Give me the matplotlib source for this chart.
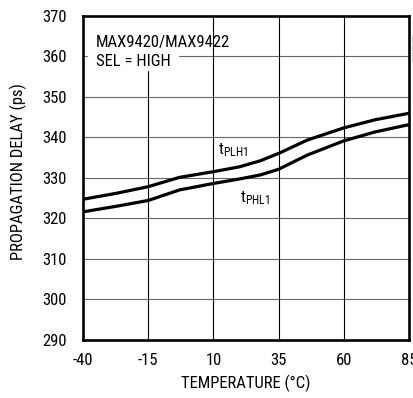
import numpy as np
import matplotlib
matplotlib.use('Agg')
import matplotlib.pyplot as plt

plt.rcParams['font.family'] = ['Roboto Condensed', 'DejaVu Sans']
plt.rcParams['axes.unicode_minus'] = False

# Data
temps = [-40, -27, -15, -3, 10, 20, 28, 35, 46, 60, 72, 85]
t_plh1 = [324.7, 326.2, 327.8, 330.1, 331.5, 332.7, 334.2, 336.0, 339.3, 342.3, 344.3, 345.9]
t_phl1 = [321.6, 323.0, 324.4, 327.0, 328.6, 329.7, 330.7, 332.1, 335.6, 339.1, 341.3, 343.1]

x_ticks = [-40, -15, 10, 35, 60, 85]
y_ticks = [290, 300, 310, 320, 330, 340, 350, 360, 370]

fig = plt.figure(figsize=(4.14, 3.98), dpi=100)
ax = fig.add_axes([0.2005, 0.1457, 0.7875, 0.8153])

# grid
for yv in y_ticks[1:-1]:
    ax.axhline(yv, color='#666666', lw=0.8, zorder=1)
for xv in x_ticks[1:-1]:
    ax.axvline(xv, color='black', lw=0.8, zorder=1)

# curves
ax.plot(temps, t_plh1, color='black', lw=2.3, zorder=3, solid_capstyle='butt')
ax.plot(temps, t_phl1, color='black', lw=2.3, zorder=3, solid_capstyle='butt')

ax.set_xlim(-40, 85)
ax.set_ylim(290, 370)
ax.set_xticks(x_ticks)
ax.set_yticks(y_ticks)
ax.tick_params(length=0, labelsize=12)
ax.tick_params(axis='x', pad=9)
ax.tick_params(axis='y', pad=12)
for s in ax.spines.values():
    s.set_linewidth(1.9)

ax.set_xlabel('TEMPERATURE (°C)', fontsize=12, labelpad=5)
ax.set_ylabel('PROPAGATION DELAY (ps)', fontsize=12)
ax.yaxis.set_label_coords(-0.172, 0.52)

# white area behind the title text
ax.fill_between([-38.1, -3.6], 356.5, 370, color='white', zorder=2)
ax.text(-35.0, 362.3, 'MAX9420/MAX9422', fontsize=12, va='baseline', ha='left', zorder=4)
ax.text(-35.0, 357.6, 'SEL = HIGH', fontsize=12, va='baseline', ha='left', zorder=4)

ax.text(11.8, 336.7, r'$\mathregular{t_{PLH1}}$', fontsize=12, va='center', ha='left', zorder=4)
ax.text(20.2, 325.0, r'$\mathregular{t_{PHL1}}$', fontsize=12, va='center', ha='left', zorder=4)

fig.text(0.995, 0.88, 'MAX9420 toc06', rotation=270, fontsize=3, color='#888888',
         ha='center', va='center')

fig.savefig('out.png', dpi=100)
